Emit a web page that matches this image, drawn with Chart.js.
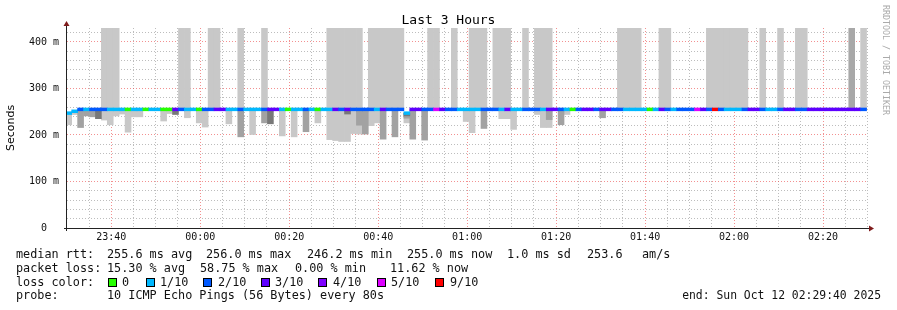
<!DOCTYPE html>
<html>
<head>
<meta charset="utf-8">
<title>Last 3 Hours</title>
<script src="https://cdn.jsdelivr.net/npm/chart.js@4.4.1/dist/chart.umd.min.js"></script>
<style>
    body { margin: 0; background: #fff; }
    #wrap { position: relative; width: 897px; height: 310px; background: #fff; overflow: hidden; }
    #chart { position: absolute; left: 0; top: 0; }
    #title { position: absolute; left: 0; top: 12px; width: 897px; text-align: center; font: 13px/16px 'DejaVu Sans Mono', monospace; color: #000; }
    #brand { position: absolute; left: 881px; top: 5px; writing-mode: vertical-rl; font: 8.3px/10px 'DejaVu Sans Mono', monospace; color: #aaa; white-space: pre; }
    .txt { position: absolute; font-family: 'DejaVu Sans Mono', monospace; font-size: 11.8px; line-height: 14px; white-space: pre; color: #111; }
    .sq { position: absolute; top: 278px; width: 7px; height: 7px; border: 1px solid #000; }
</style>
</head>
<body>
<div id="wrap">
    <canvas id="chart" width="897" height="310"></canvas>
    <div id="title">Last 3 Hours</div>
    <div id="brand">RRDTOOL / TOBI OETIKER</div>

    <span class="txt" style="left:16px;top:247px">median rtt:</span>
    <span class="txt" style="left:107px;top:247px">255.6 ms avg</span>
    <span class="txt" style="left:206px;top:247px">256.0 ms max</span>
    <span class="txt" style="left:307px;top:247px">246.2 ms min</span>
    <span class="txt" style="left:407px;top:247px">255.0 ms now</span>
    <span class="txt" style="left:507px;top:247px">1.0 ms sd</span>
    <span class="txt" style="left:587px;top:247px">253.6</span>
    <span class="txt" style="left:642px;top:247px">am/s</span>

    <span class="txt" style="left:16px;top:261px">packet loss:</span>
    <span class="txt" style="left:107px;top:261px">15.30 % avg</span>
    <span class="txt" style="left:200px;top:261px">58.75 % max</span>
    <span class="txt" style="left:295px;top:261px">0.00 % min</span>
    <span class="txt" style="left:390px;top:261px">11.62 % now</span>

    <span class="txt" style="left:16px;top:275px">loss color:</span>
    <span class="sq" style="left:108px;background:#26ff00"></span><span class="txt" style="left:122px;top:275px">0</span>
    <span class="sq" style="left:146px;background:#00b8ff"></span><span class="txt" style="left:160px;top:275px">1/10</span>
    <span class="sq" style="left:203px;background:#0059ff"></span><span class="txt" style="left:218px;top:275px">2/10</span>
    <span class="sq" style="left:261px;background:#5e00ff"></span><span class="txt" style="left:275px;top:275px">3/10</span>
    <span class="sq" style="left:318px;background:#7e00ff"></span><span class="txt" style="left:333px;top:275px">4/10</span>
    <span class="sq" style="left:377px;background:#dd00ff"></span><span class="txt" style="left:391px;top:275px">5/10</span>
    <span class="sq" style="left:435px;background:#ff0000"></span><span class="txt" style="left:450px;top:275px">9/10</span>

    <span class="txt" style="left:16px;top:288px">probe:</span>
    <span class="txt" style="left:107px;top:288px">10 ICMP Echo Pings (56 Bytes) every 80s</span>
    <span class="txt" style="right:16px;top:288px;font-size:11.4px">end: Sun Oct 12 02:29:40 2025</span>
</div>
<script>
(function () {
    'use strict';

    // one sample every 80 s, first one centred at 23:30:26 (minutes from 00:00)
    var firstSample = -29.56;
    var sampleMinutes = 80 / 60;

    // median rtt in ms, one per step
    var median = [
        247, 251, 255, 255, 255, 255, 255, 255, 255, 255, 255, 255, 255, 255, 255,
        255, 255, 255, 255, 255, 255, 255, 255, 255, 255, 255, 255, 255, 255, 255,
        255, 255, 255, 255, 255, 255, 255, 255, 255, 255, 255, 255, 255, 255, 255,
        255, 255, 255, 255, 255, 255, 255, 255, 255, 255, 255, 255, 247, 255, 255,
        255, 255, 255, 255, 255, 255, 255, 255, 255, 255, 255, 255, 255, 255, 255,
        255, 255, 255, 255, 255, 255, 255, 255, 255, 255, 255, 255, 255, 255, 255,
        255, 255, 255, 255, 255, 255, 255, 255, 255, 255, 255, 255, 255, 255, 255,
        255, 255, 255, 255, 255, 255, 255, 255, 255, 255, 255, 255, 255, 255, 255,
        255, 255, 255, 255, 255, 255, 255, 255, 255, 255, 255, 255, 255, 255, 255
    ];

    // lost pings out of 10, per step
    var lossTenths = [
        1, 1, 2, 1, 2, 2, 2, 1, 1, 1, 0, 1, 1, 0, 1,
        1, 0, 0, 3, 2, 1, 1, 0, 2, 2, 3, 3, 1, 1, 2,
        1, 1, 1, 2, 3, 3, 1, 0, 1, 1, 2, 1, 0, 1, 1,
        3, 2, 3, 2, 2, 2, 2, 1, 3, 2, 2, 2, 1, 3, 3,
        2, 2, 5, 3, 2, 2, 1, 1, 1, 1, 2, 2, 2, 1, 3,
        1, 1, 2, 2, 2, 1, 3, 3, 2, 1, 0, 2, 3, 3, 2,
        3, 3, 2, 2, 1, 1, 1, 1, 0, 1, 3, 2, 1, 2, 2,
        2, 5, 3, 2, 9, 2, 1, 1, 1, 2, 3, 3, 2, 1, 1,
        2, 3, 3, 2, 2, 3, 3, 3, 3, 3, 3, 3, 3, 3, 2
    ];

    var n = null;

    // lowest ping of the light smoke below the median (ms)
    var smokeLowLight = [
        222, 244, n, n, n, n, 232, 222, 241, 245, 206, 239, 239, n, n,
        n, 230, 246, n, n, 237, n, 226, 217, n, n, n, 224, n, n,
        n, 201, n, n, n, n, 198, n, 196, n, n, n, 226, n, 190,
        188, 186, 186, 203, 202, n, 220, 226, n, n, n, n, 226, n, n,
        n, n, n, n, n, n, n, 229, 205, n, n, n, n, 235, 235,
        212, n, n, n, 244, 216, 216, n, n, 244, n, n, n, n, n,
        n, n, n, n, n, n, n, n, n, n, n, n, n, n, n,
        n, n, n, n, n, n, n, n, n, n, n, n, n, n, n,
        n, n, n, n, n, n, n, n, n, n, n, n, n, n, n
    ];

    // medium grey smoke below the median (ms)
    var smokeLowMid = [
        n, n, 216, 241, 239, n, n, n, n, n, n, n, n, n, n,
        n, n, n, n, n, n, n, n, n, n, n, n, n, n, 196,
        n, n, n, 226, n, n, n, n, n, n, 207, n, n, n, n,
        n, n, n, n, 221, 202, n, n, 191, n, 196, n, 236, 191, n,
        189, n, n, n, n, n, n, n, n, n, 214, n, n, n, n,
        n, n, n, n, n, n, 233, n, 222, n, n, n, n, n, n,
        237, n, n, n, n, n, n, n, n, n, n, n, n, n, n,
        n, n, n, n, n, n, n, n, n, n, n, n, n, n, n,
        n, n, n, n, n, n, n, n, n, n, n, n, n, n, n
    ];

    // dark smoke below the median (ms)
    var smokeLowDark = [
        n, n, n, n, n, 235, n, n, n, n, n, n, n, n, n,
        n, n, n, 244, n, n, n, n, n, n, n, n, n, n, n,
        n, n, n, n, 224, n, n, n, n, n, n, n, n, n, n,
        n, n, 245, n, n, n, n, n, n, n, n, n, 241, n, n,
        n, n, n, n, n, n, n, n, n, n, n, n, n, n, n,
        n, n, n, n, n, n, n, n, n, n, n, n, n, n, n,
        n, n, n, n, n, n, n, n, n, n, n, n, n, n, n,
        n, n, n, n, n, n, n, n, n, n, n, n, n, n, n,
        n, n, n, n, n, n, n, n, n, n, n, n, n, n, n
    ];

    // smoke above the median that runs off the top of the graph (ms)
    var smokeHighLight = [
        n, n, n, n, n, n, 440, 440, 440, n, n, n, n, n, n,
        n, n, n, n, 440, 440, n, n, n, 440, 440, n, n, n, 440,
        n, n, n, 440, n, n, n, n, n, n, n, n, n, n, 440,
        440, 440, 440, 440, 440, n, 440, 440, 440, 440, 440, 440, n, n, n,
        n, 440, 440, n, n, 440, n, n, 440, 440, 440, n, 440, 440, 440,
        n, n, 440, n, 440, 440, 440, n, n, n, n, n, n, n, n,
        n, n, n, 440, 440, 440, 440, n, n, n, 440, 440, n, n, n,
        n, n, n, 440, 440, 440, 440, 440, 440, 440, n, n, 440, n, n,
        440, n, n, 440, 440, n, n, n, n, n, n, n, n, n, 440
    ];

    var smokeHighMid = [
        n, n, n, n, n, n, n, n, n, n, n, n, n, n, n,
        n, n, n, n, n, n, n, n, n, n, n, n, n, n, n,
        n, n, n, n, n, n, n, n, n, n, n, n, n, n, n,
        n, n, n, n, n, n, n, n, n, n, n, n, n, n, n,
        n, n, n, n, n, n, n, n, n, n, n, n, n, n, n,
        n, n, n, n, n, n, n, n, n, n, n, n, n, n, n,
        n, n, n, n, n, n, n, n, n, n, n, n, n, n, n,
        n, n, n, n, n, n, n, n, n, n, n, n, n, n, n,
        n, n, n, n, n, n, n, n, n, n, n, n, 440, n, n
    ];

    var lossColors = { 0: '#26ff00', 1: '#00b8ff', 2: '#0059ff', 3: '#5e00ff', 4: '#7e00ff', 5: '#dd00ff', 9: '#ff0000' };

    var gridGrey = '#bdbdbd';
    var gridRed = 'rgba(235, 70, 70, 0.6)';

    function timeOf(i) { return firstSample + i * sampleMinutes; }

    function below(lows) {
        var out = [];
        lows.forEach(function (v, i) {
            if (v !== null) out.push({ x: timeOf(i), y: [v, median[i]] });
        });
        return out;
    }

    function above(tops) {
        var out = [];
        tops.forEach(function (v, i) {
            if (v !== null) out.push({ x: timeOf(i), y: [median[i], v] });
        });
        return out;
    }

    function clock(v) {
        var m = ((Math.round(v) % 1440) + 1440) % 1440;
        var hh = Math.floor(m / 60), mm = m % 60;
        return (hh < 10 ? '0' : '') + hh + ':' + (mm < 10 ? '0' : '') + mm;
    }

    var bar = { type: 'bar', grouped: false, barPercentage: 1, categoryPercentage: 1, borderWidth: 0 };

    function ds(label, data, color, order) {
        return Object.assign({}, bar, { label: label, data: data, backgroundColor: color, order: order });
    }

    var medianBand = median.map(function (m, i) { return { x: timeOf(i), y: [m - 3, m + 3] }; });

    var axisPlugin = {
        id: 'rrdAxes',
        afterDatasetsDraw: function (chart) {
            var a = chart.chartArea, ctx = chart.ctx;
            ctx.save();
            ctx.strokeStyle = '#222';
            ctx.lineWidth = 1;
            ctx.beginPath();
            ctx.moveTo(a.left - 3, a.bottom + 0.5);
            ctx.lineTo(a.right + 2, a.bottom + 0.5);
            ctx.moveTo(a.left - 0.5, a.bottom + 3);
            ctx.lineTo(a.left - 0.5, a.top - 3);
            ctx.stroke();
            ctx.fillStyle = '#7f1c1c';
            ctx.beginPath();
            ctx.moveTo(a.right + 1, a.bottom - 2.5);
            ctx.lineTo(a.right + 6, a.bottom + 0.5);
            ctx.lineTo(a.right + 1, a.bottom + 3.5);
            ctx.fill();
            ctx.beginPath();
            ctx.moveTo(a.left - 3.5, a.top - 2);
            ctx.lineTo(a.left - 0.5, a.top - 7);
            ctx.lineTo(a.left + 2.5, a.top - 2);
            ctx.fill();
            ctx.restore();
        }
    };

    Chart.defaults.font.family = "'DejaVu Sans Mono', monospace";
    Chart.defaults.font.size = 10;
    Chart.defaults.color = '#111';

    new Chart(document.getElementById('chart'), {
        type: 'bar',
        data: {
            datasets: [
                ds('median', medianBand, function (c) { return lossColors[lossTenths[c.dataIndex]]; }, 0),
                ds('smoke dark', below(smokeLowDark), '#787878', 1),
                ds('smoke mid', below(smokeLowMid), '#a2a2a2', 2),
                ds('smoke high mid', above(smokeHighMid), '#a8a8a8', 3),
                ds('smoke light', below(smokeLowLight), '#c8c8c8', 4),
                ds('smoke high', above(smokeHighLight), '#c8c8c8', 5)
            ]
        },
        options: {
            responsive: false,
            animation: false,
            layout: { padding: { left: 0, right: 29, top: 28, bottom: 0 } },
            plugins: { legend: { display: false }, tooltip: { enabled: false } },
            scales: {
                x: {
                    type: 'linear',
                    min: -29.95,
                    max: 150.1,
                    offset: false,
                    grid: {
                        offset: false,
                        drawTicks: false,
                        color: function (c) { return c.tick && c.tick.value % 20 === 0 ? gridRed : gridGrey; }
                    },
                    border: { display: false, dash: [1, 2] },
                    ticks: {
                        stepSize: 5,
                        includeBounds: false,
                        autoSkip: false,
                        maxRotation: 0,
                        padding: 3,
                        callback: function (v) { return v % 20 === 0 ? clock(v) : ''; }
                    },
                    afterFit: function (s) { s.height = 82; }
                },
                y: {
                    min: 0,
                    max: 430,
                    grid: {
                        drawTicks: false,
                        color: function (c) { return c.tick && c.tick.value % 100 === 0 ? gridRed : gridGrey; }
                    },
                    border: { display: false, dash: [1, 2] },
                    ticks: {
                        stepSize: 20,
                        includeBounds: false,
                        autoSkip: false,
                        padding: 8,
                        callback: function (v) {
                            if (v === 0) return '0  ';
                            return v % 100 === 0 ? v + ' m' : '';
                        }
                    },
                    title: {
                        display: true,
                        text: 'Seconds',
                        color: '#000',
                        font: { family: "'DejaVu Sans', sans-serif", size: 11 },
                        padding: { top: 5, bottom: 0 }
                    },
                    afterFit: function (s) { s.width = 67; }
                }
            }
        },
        plugins: [axisPlugin]
    });
})();
</script>
</body>
</html>
